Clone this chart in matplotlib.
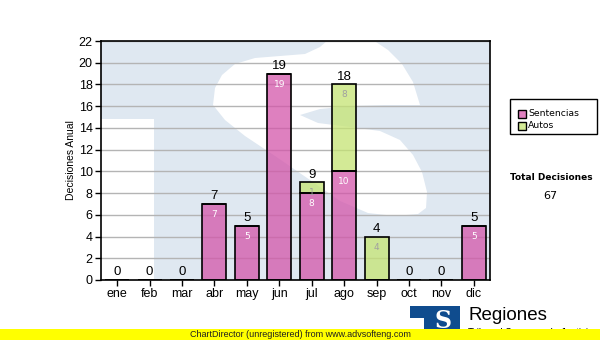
import matplotlib
matplotlib.use("Agg")
import matplotlib.pyplot as plt
from matplotlib.patches import Polygon, Rectangle
import numpy as np

months = ["ene", "feb", "mar", "abr", "may", "jun", "jul", "ago", "sep", "oct", "nov", "dic"]
sentencias = [0, 0, 0, 7, 5, 19, 8, 10, 0, 0, 0, 5]
autos = [0, 0, 0, 0, 0, 0, 1, 8, 4, 0, 0, 0]
series_names = ["Sentencias", "Autos"]
y_ticks = list(range(0, 23, 2))
total_title = "Total Decisiones"

W, H = 600, 340
fig = plt.figure(figsize=(6, 3.4), dpi=100)
fig.patch.set_facecolor("white")

L, R, T, B = 101, 490, 41, 280
ax = fig.add_axes([L / W, 1 - B / H, (R - L) / W, (B - T) / H])

# --- watermark (decorative background) in axes fraction coords ---
def px(pts):
    return [((x - L) / (R - L), (B - y) / (B - T)) for x, y in pts]

ax.add_patch(Rectangle((0, 0), 1, 1, transform=ax.transAxes, facecolor="#dfe8f1",
                       edgecolor="none", zorder=0))
ax.add_patch(Polygon(px([(101, 119), (154, 119), (154, 281), (101, 281)]), closed=True,
                     transform=ax.transAxes, facecolor="white", edgecolor="none", zorder=0.1))
s_shape = [(213, 105), (215, 88), (222, 75), (235, 64), (255, 58), (280, 56), (305, 54),
           (320, 47), (328, 40), (373, 40), (388, 50), (402, 64), (413, 82), (420, 105),
           (385, 105), (350, 106), (320, 109), (300, 115), (318, 123), (350, 127), (380, 131),
           (400, 140), (413, 155), (422, 172), (427, 192), (426, 208), (418, 214), (395, 216),
           (368, 213), (340, 201), (310, 180), (275, 156), (245, 136), (225, 120)]
ax.add_patch(Polygon(px(s_shape), closed=True, transform=ax.transAxes,
                     facecolor="white", edgecolor="none", zorder=0.1))

x = np.arange(len(months)) + 0.5
pink = "#d355aa"
green = "#c5e473"
bw = 0.74
ax.bar(x, sentencias, bw, color=pink, alpha=0.75, edgecolor="none", zorder=2)
ax.bar(x, sentencias, bw, facecolor="none", edgecolor="black", linewidth=1.2, zorder=3)
ax.bar(x, autos, bw, bottom=sentencias, color=green, alpha=0.75, edgecolor="none", zorder=2)
ax.bar(x, autos, bw, bottom=sentencias, facecolor="none", edgecolor="black", linewidth=1.2, zorder=3)

tf = {"family": ["Liberation Sans", "DejaVu Sans"]}
for xi, s, a in zip(x, sentencias, autos):
    tot = s + a
    ax.text(xi, tot + 0.15, str(tot), ha="center", va="bottom", fontsize=9.5, color="black", **tf)
    if s > 0:
        ax.text(xi, s - 0.55, str(s), ha="center", va="top", fontsize=6.5, color="white",
                family="DejaVu Sans")
    if a > 0:
        ax.text(xi, s + a - 0.55, str(a), ha="center", va="top", fontsize=6.5, color="#a0a0a0",
                family="DejaVu Sans")

ax.set_xlim(0, 12)
ax.set_ylim(0, 22)
ax.set_yticks(y_ticks)
ax.set_yticklabels([str(t) for t in y_ticks], fontsize=9, **tf)
ax.set_xticks(x)
ax.set_xticklabels(months, fontsize=9, **tf)
ax.tick_params(axis="both", direction="out", length=4, width=1, pad=2)
ax.yaxis.grid(True, color="#b4b4b4", linewidth=1, zorder=1)
ax.set_axisbelow(True)
for sp in ax.spines.values():
    sp.set_linewidth(1.2)
    sp.set_zorder(4)
ax.set_ylabel("Decisiones Anual", fontsize=7.5, labelpad=2, **tf)

# legend box
fig.patches.append(Rectangle((510 / W, 1 - 134 / H), 87 / W, 35 / H, transform=fig.transFigure,
                             facecolor="white", edgecolor="black", linewidth=1))
for i, (name, col) in enumerate(zip(series_names, ["#e080c0", "#d4eb96"])):
    yy = 114 + i * 12
    fig.patches.append(Rectangle((518 / W, 1 - (yy + 4) / H), 8 / W, 8 / H, transform=fig.transFigure,
                                 facecolor=col, edgecolor="black", linewidth=1))
    fig.text(528 / W, 1 - yy / H, name, fontsize=6.7, va="center", ha="left", family="DejaVu Sans")

total = sum(sentencias) + sum(autos)
fig.text(551 / W, 1 - 178 / H, total_title, fontsize=6.5, fontweight="bold", ha="center", va="center",
         family="DejaVu Sans")
fig.text(550 / W, 1 - 196 / H, str(total), fontsize=8, ha="center", va="center", family="DejaVu Sans")

# logo
fig.patches.append(Polygon([(410 / W, 1 - 306 / H), (460 / W, 1 - 306 / H), (460 / W, 0),
                            (424 / W, 0), (424 / W, 1 - 318 / H), (410 / W, 1 - 318 / H)],
                           closed=True, transform=fig.transFigure, facecolor="#0f4c8e",
                           edgecolor="none", zorder=1))
fig.text(443 / W, 1 - 321 / H, "S", fontsize=17, fontweight="bold", color="white", ha="center",
         va="center", family="DejaVu Serif", zorder=2)
fig.text(468 / W, 1 - 316 / H, "Regiones", fontsize=13.5, ha="left", va="center", zorder=2, **tf)
fig.text(468 / W, 1 - 333 / H, "Tribunal Supremo de Justicia", fontsize=7, ha="left", va="center",
         zorder=2, **tf)

# footer
fig.patches.append(Rectangle((0, 0), 1, 11 / H, transform=fig.transFigure, facecolor="#ffff00",
                             edgecolor="none", zorder=5))
fig.text(190 / W, 1 - 334.5 / H, "ChartDirector (unregistered) from www.advsofteng.com", fontsize=6.5,
         ha="left", va="center", color="#202020", zorder=6, **tf)

fig.savefig("out.png", dpi=100)
